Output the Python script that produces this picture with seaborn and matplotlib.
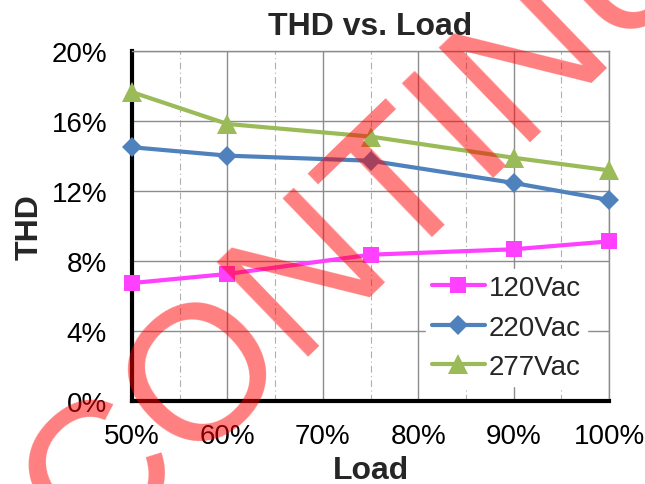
import matplotlib
matplotlib.use("Agg")
import matplotlib.pyplot as plt
import matplotlib.ticker as mticker
from matplotlib.transforms import IdentityTransform
import seaborn as sns
import pandas as pd

# ---- data ----
load_pct = [50, 60, 75, 90, 100]
thd_120 = [6.74, 7.26, 8.36, 8.67, 9.12]
thd_220 = [14.50, 14.02, 13.73, 12.46, 11.49]
thd_277 = [17.65, 15.83, 15.11, 13.90, 13.18]
series_names = ["120Vac", "220Vac", "277Vac"]
x_ticks = [50, 60, 70, 80, 90, 100]
y_ticks = [0, 4, 8, 12, 16, 20]

sns.set_style("white")
plt.rcParams["font.family"] = ["Liberation Sans", "DejaVu Sans"]

W, H = 645, 485
fig = plt.figure(figsize=(W / 100, H / 100), dpi=100)
ax = fig.add_axes([132 / W, 1 - 402 / H, (609 - 132) / W, (402 - 52) / H])

styles = {
    "120Vac": dict(color="#FF40FF", marker="s", markersize=12),
    "220Vac": dict(color="#4F81BD", marker="D", markersize=10.5),
    "277Vac": dict(color="#9BBB59", marker="^", markersize=15),
}
values = {"120Vac": thd_120, "220Vac": thd_220, "277Vac": thd_277}

for name in series_names:
    df = pd.DataFrame({"Load": load_pct, "THD": values[name]})
    st = styles[name]
    sns.lineplot(data=df, x="Load", y="THD", ax=ax, label=name,
                 color=st["color"], marker=st["marker"], markersize=st["markersize"],
                 markeredgewidth=0, markeredgecolor=st["color"],
                 linewidth=3, clip_on=False, zorder=5)

ax.set_xlim(50, 100)
ax.set_ylim(0, 20)
ax.set_xticks(x_ticks)
ax.set_yticks(y_ticks)
ax.xaxis.set_minor_locator(mticker.MultipleLocator(5))
ax.xaxis.set_major_formatter(mticker.FuncFormatter(lambda v, p: f"{v:.0f}%"))
ax.yaxis.set_major_formatter(mticker.FuncFormatter(lambda v, p: f"{v:.0f}%"))

ax.grid(which="major", axis="both", color="#8C8C8C", linewidth=1.0, linestyle="-")
ax.grid(which="minor", axis="x", color="#B0B0B0", linewidth=0.8, linestyle=(0, (6, 3, 1, 3)))
ax.set_axisbelow(True)

for side in ["left", "bottom"]:
    ax.spines[side].set_color("black")
    ax.spines[side].set_linewidth(3)
for side in ["top", "right"]:
    ax.spines[side].set_color("#8C8C8C")
    ax.spines[side].set_linewidth(1.0)

ax.tick_params(axis="both", which="major", direction="in", length=7, width=2.5,
               color="black", labelsize=20, labelcolor="black")
ax.tick_params(axis="y", which="major", pad=18)
ax.tick_params(axis="x", which="major", pad=16)
ax.tick_params(axis="x", which="minor", length=0)

ax.set_title("THD vs. Load", fontsize=23, fontweight="bold", pad=12)
ax.set_xlabel("Load", fontsize=23, fontweight="bold", va="top")
ax.set_ylabel("THD", fontsize=23, fontweight="bold")
ax.xaxis.set_label_coords(0.5, -0.155)
ax.yaxis.set_label_coords(-0.184, 0.5)

leg = ax.legend(loc="lower right", bbox_to_anchor=(0.982, 0.004), fontsize=20,
                frameon=True, fancybox=False, framealpha=1, edgecolor="white",
                facecolor="white", handlelength=1.9, handletextpad=0.15,
                labelspacing=0.49, borderpad=0.2, numpoints=1)
leg.set_zorder(6)

# watermark
fig.text(-143, H - 778, "DISCONTINUED", transform=IdentityTransform(),
         rotation=44, rotation_mode="anchor", ha="left", va="baseline",
         fontsize=138, color="red", alpha=0.5, zorder=10)

fig.savefig("out.png", dpi=100)
